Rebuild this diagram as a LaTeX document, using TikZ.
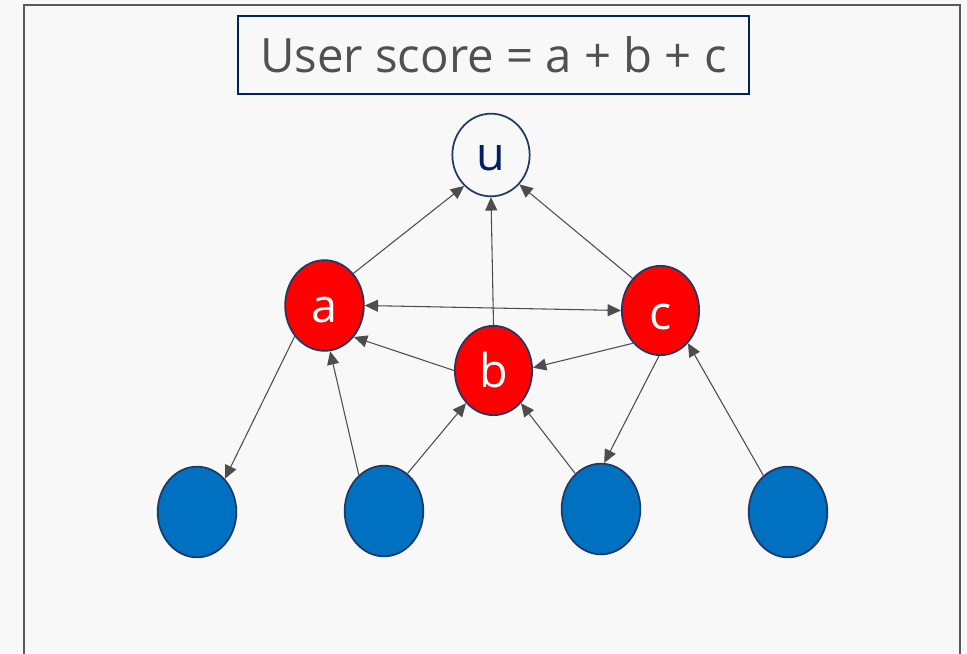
\documentclass[tikz,border=0pt]{standalone}
\usepackage{fontspec}
\setmainfont{Open Sans}
\usetikzlibrary{arrows.meta,shapes.geometric}
\definecolor{bgGrey}{HTML}{F8F8F8}
\definecolor{frameGrey}{HTML}{5A5A5A}
\definecolor{rimNavy}{HTML}{203864}
\definecolor{titleNavy}{HTML}{002060}
\definecolor{textGrey}{HTML}{505050}
\definecolor{linkGrey}{HTML}{4D4D4D}
\definecolor{scoreRed}{HTML}{FF0000}
\definecolor{itemBlue}{HTML}{0070C0}

\begin{document}
\begin{tikzpicture}[x=0.75pt,y=-0.75pt,
    blob/.style={ellipse,draw=rimNavy,line width=1.3pt,inner sep=0pt,
      minimum width=58pt,minimum height=67pt,font=\fontsize{35}{40}\selectfont},
    user/.style={blob,fill=bgGrey,text=titleNavy,minimum height=62pt,
      text height=22.5pt,text depth=0pt},
    part/.style={blob,fill=scoreRed,text=white,text height=26pt,text depth=0pt},
    item/.style={blob,fill=itemBlue,minimum width=59pt,minimum height=68pt},
    link/.style={draw=linkGrey,line width=0.8pt,-{Triangle[length=10pt,width=9pt]}}]
  \useasboundingbox (0,0) rectangle (967,653);
  \fill[bgGrey] (0,0) rectangle (967,653);
  \clip (0,0) rectangle (967,653);
  \draw[frameGrey,line width=1.6pt] (24,5) rectangle (960,700);

  \node[draw=titleNavy,line width=1.4pt,fill=bgGrey,text=textGrey,inner sep=0pt,
    minimum width=383pt,minimum height=58.5pt,font=\fontsize{35.5}{40}\selectfont] (title)
    at (493.5,55) {User score = a + b + c};

  \node[user] (u) at (491,155) {u};
  \node[part,minimum width=59pt,minimum height=68pt] (a) at (324.5,305.5) {a};
  \node[part] (b) at (493.5,370.5) {b};
  \node[part,text height=29pt] (c) at (660.5,310.5) {c};

  \node[item] (i1) at (197,512) {};
  \node[item] (i2) at (384,511) {};
  \node[item] (i3) at (601,509) {};
  \node[item] (i4) at (788,512) {};

  % into u
  \draw[link] (a.48) -- (u.229);
  \draw[link] (b.90) -- (u.270);
  \draw[link] (c.131) -- (u.314);
  % among a, b, c
  \draw[link,{Triangle[length=10pt,width=9pt]}-{Triangle[length=10pt,width=9pt]}] (a.0) -- (c.180);
  \draw[link] (b.180) -- (a.313);
  \draw[link] (c.230) -- (b.4);
  % items
  \draw[link] (a.226) -- (i1.50);
  \draw[link] (i2.125) -- (a.277);
  \draw[link] (i2.58) -- (b.230);
  \draw[link] (i3.126) -- (b.310);
  \draw[link] (c.268) -- (i3.86);
  \draw[link] (i4.124) -- (c.310);
\end{tikzpicture}
\end{document}
